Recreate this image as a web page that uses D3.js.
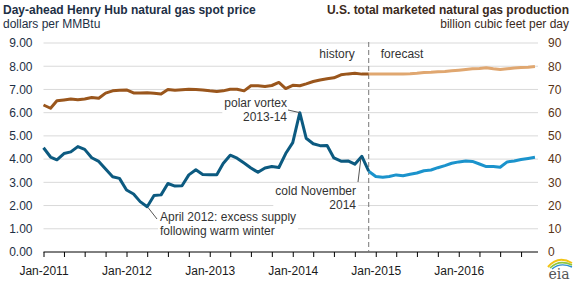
<!DOCTYPE html>
<html>
<head>
<meta charset="utf-8">
<script src="https://cdn.jsdelivr.net/npm/d3@7/dist/d3.min.js"></script>
<style>
body { margin: 0; background: #fff; }
svg { font-family: Arial, "Liberation Sans", sans-serif; }
.grid line { stroke: #d9d9d9; stroke-width: 1; }
.tick text { font-size: 12px; }
</style>
</head>
<body>
<svg id="chart" width="574" height="284"></svg>
<script>
// monthly values, history Jan-2011..Dec-2014, forecast Jan-2015..Dec-2016
const firstYear = 2011;
const historyMonths = 48;

// Henry Hub spot price, dollars per MMBtu
const priceHistory = [
  4.49, 4.09, 3.97, 4.24, 4.31, 4.54, 4.42, 4.06, 3.90, 3.57, 3.24, 3.17,
  2.67, 2.50, 2.17, 1.95, 2.43, 2.46, 2.95, 2.84, 2.85, 3.32, 3.54, 3.34,
  3.33, 3.33, 3.81, 4.17, 4.04, 3.83, 3.62, 3.43, 3.62, 3.68, 3.64, 4.24,
  4.71, 6.00, 4.90, 4.66, 4.58, 4.59, 4.05, 3.91, 3.92, 3.78, 4.12, 3.48
];
const priceForecast = [
  3.25, 3.22, 3.25, 3.32, 3.28, 3.35, 3.40, 3.50, 3.53, 3.63, 3.72, 3.82,
  3.88, 3.92, 3.90, 3.79, 3.68, 3.68, 3.65, 3.88, 3.92, 3.98, 4.03, 4.08
];

// marketed natural gas production, billion cubic feet per day
const prodHistory = [
  63.3, 61.9, 65.1, 65.5, 65.9, 65.6, 65.9, 66.5, 66.2, 68.4, 69.4, 69.7,
  69.8, 68.5, 68.5, 68.6, 68.4, 68.0, 70.0, 69.7, 69.9, 70.1, 70.0, 69.8,
  69.4, 69.1, 69.4, 70.1, 70.1, 69.4, 71.6, 71.6, 71.3, 71.7, 73.0, 70.4,
  71.8, 71.6, 72.4, 73.4, 74.1, 74.6, 75.0, 76.3, 76.7, 77.0, 76.6, 76.6
];
const prodForecast = [
  76.7, 76.7, 76.7, 76.7, 76.7, 76.8, 77.0, 77.3, 77.4, 77.6, 77.7, 78.0,
  78.3, 78.6, 78.9, 79.0, 79.3, 78.9, 78.6, 78.9, 79.2, 79.4, 79.6, 79.9
];

const leftTicks = [0, 1, 2, 3, 4, 5, 6, 7, 8, 9];
const rightTicks = [0, 10, 20, 30, 40, 50, 60, 70, 80, 90];

const monthDate = i => new Date(firstYear, i, 1);

const svg = d3.select('#chart');
const plotLeft = 43.5, plotRight = 538, plotTop = 43, plotBottom = 252;

const x = d3.scaleTime()
  .domain([new Date(2011, 0, 1), new Date(2017, 0, 1)])
  .range([plotLeft, 542]);
const y = d3.scaleLinear().domain([0, 9]).range([plotBottom, plotTop]);
const yR = d3.scaleLinear().domain([0, 90]).range([plotBottom, plotTop]);

// titles
svg.append('text').attr('x', 3).attr('y', 14)
  .attr('font-size', 12).attr('font-weight', 'bold').attr('fill', '#1d2f45')
  .text('Day-ahead Henry Hub natural gas spot price');
svg.append('text').attr('x', 3).attr('y', 28)
  .attr('font-size', 12).attr('fill', '#1d2f45')
  .text('dollars per MMBtu');
svg.append('text').attr('x', 569).attr('y', 14).attr('text-anchor', 'end')
  .attr('font-size', 12).attr('font-weight', 'bold').attr('fill', '#3b2a1c')
  .text('U.S. total marketed natural gas production');
svg.append('text').attr('x', 569).attr('y', 28).attr('text-anchor', 'end')
  .attr('font-size', 12).attr('fill', '#3b2a1c')
  .text('billion cubic feet per day');

// gridlines
svg.append('g').attr('class', 'grid')
  .selectAll('line')
  .data(leftTicks.filter(d => d > 0))
  .enter().append('line')
  .attr('x1', plotLeft).attr('x2', plotRight)
  .attr('y1', d => y(d)).attr('y2', d => y(d));

// left axis labels
const leftAxis = svg.append('g')
  .attr('transform', `translate(${plotLeft},0)`)
  .call(d3.axisLeft(y).tickValues(leftTicks).tickSize(0).tickPadding(11).tickFormat(d3.format('.2f')));
leftAxis.select('.domain').remove();
leftAxis.selectAll('text').attr('fill', '#1d2f45');

// right axis labels
const rightAxis = svg.append('g')
  .attr('transform', `translate(${plotRight},0)`)
  .call(d3.axisRight(yR).tickValues(rightTicks).tickSize(0).tickPadding(10));
rightAxis.select('.domain').remove();
rightAxis.selectAll('text').attr('fill', '#5a3414');

// bottom axis, quarterly ticks, labels on January only
const quarterTicks = d3.timeMonth.every(3).range(new Date(2011, 0, 1), new Date(2017, 0, 1));
const bottomAxis = svg.append('g')
  .attr('transform', `translate(0,${plotBottom})`)
  .call(d3.axisBottom(x).tickValues(quarterTicks).tickSize(5).tickPadding(9)
    .tickFormat(d => d.getMonth() === 0 ? d3.timeFormat('Jan-%Y')(d) : ''));
bottomAxis.select('.domain').remove();
bottomAxis.selectAll('.tick line').attr('stroke', '#000');
bottomAxis.selectAll('text').attr('fill', '#1a1a1a');
svg.append('line')
  .attr('x1', plotLeft).attr('x2', plotRight)
  .attr('y1', plotBottom).attr('y2', plotBottom)
  .attr('stroke', '#000').attr('stroke-width', 1);

// history / forecast divider
const divideX = x(monthDate(historyMonths - 1));
svg.append('line')
  .attr('x1', divideX).attr('x2', divideX)
  .attr('y1', 42).attr('y2', plotBottom)
  .attr('stroke', '#777').attr('stroke-width', 1).attr('stroke-dasharray', '5,3');
svg.append('text').attr('x', divideX - 14).attr('y', 58).attr('text-anchor', 'end')
  .attr('font-size', 12).attr('fill', '#333').text('history');
svg.append('text').attr('x', divideX + 12).attr('y', 58)
  .attr('font-size', 12).attr('fill', '#333').text('forecast');

// series lines
function drawSeries(values, offset, scale, color) {
  const pts = values.map((v, i) => [monthDate(offset + i), v]);
  const line = d3.line().x(d => x(d[0])).y(d => scale(d[1]));
  svg.append('path').datum(pts)
    .attr('d', line)
    .attr('fill', 'none')
    .attr('stroke', color)
    .attr('stroke-width', 3)
    .attr('stroke-linejoin', 'round');
}
// forecast lines start from the last history month
drawSeries([prodHistory[historyMonths - 1]].concat(prodForecast), historyMonths - 1, yR, '#e0a770');
drawSeries(prodHistory, 0, yR, '#9a561c');
drawSeries([priceHistory[historyMonths - 1]].concat(priceForecast), historyMonths - 1, y, '#1b93cc');
drawSeries(priceHistory, 0, y, '#0c5a80');

// annotations with white background and leader lines
function annotate(lines, tx, ty, anchor, from, to) {
  const g = svg.append('g');
  const t = g.append('text').attr('font-size', 12).attr('fill', '#333').attr('text-anchor', anchor);
  lines.forEach((s, i) => {
    t.append('tspan').attr('x', tx).attr('y', ty + i * 14).text(s);
  });
  const b = t.node().getBBox();
  g.insert('rect', 'text')
    .attr('x', b.x - 2).attr('y', b.y - 1)
    .attr('width', b.width + 4).attr('height', b.height + 2)
    .attr('fill', '#fff');
  svg.append('line')
    .attr('x1', from[0]).attr('y1', from[1])
    .attr('x2', to[0]).attr('y2', to[1])
    .attr('stroke', '#555').attr('stroke-width', 1);
}

const peakDate = monthDate(37);
annotate(['polar vortex', '2013-14'], 287, 107, 'end',
  [288, 110], [x(peakDate), y(priceHistory[37])]);
annotate(['April 2012: excess supply', 'following warm winter'], 160, 221, 'start',
  [157, 219], [x(monthDate(15)) + 1, y(priceHistory[15]) + 1]);
annotate(['cold November', '2014'], 356, 195, 'end',
  [358, 182], [x(monthDate(46)) - 1, y(priceHistory[46]) + 2]);

// eia logo
const logo = svg.append('g').attr('transform', 'translate(546,257)');
logo.append('path').attr('d', 'M2,10 Q12,-2 26,6').attr('fill', 'none').attr('stroke', '#f2c314').attr('stroke-width', 2);
logo.append('path').attr('d', 'M4,11 Q13,2 26,8').attr('fill', 'none').attr('stroke', '#8cc63f').attr('stroke-width', 1.6);
logo.append('path').attr('d', 'M6,12 Q14,5 26,10').attr('fill', 'none').attr('stroke', '#2a8fd0').attr('stroke-width', 1.4);
logo.append('text').attr('x', 13).attr('y', 22).attr('text-anchor', 'middle')
  .attr('font-family', '"DejaVu Serif", "Liberation Serif", serif').attr('font-size', 14)
  .attr('fill', '#555').text('eia');
</script>
</body>
</html>
